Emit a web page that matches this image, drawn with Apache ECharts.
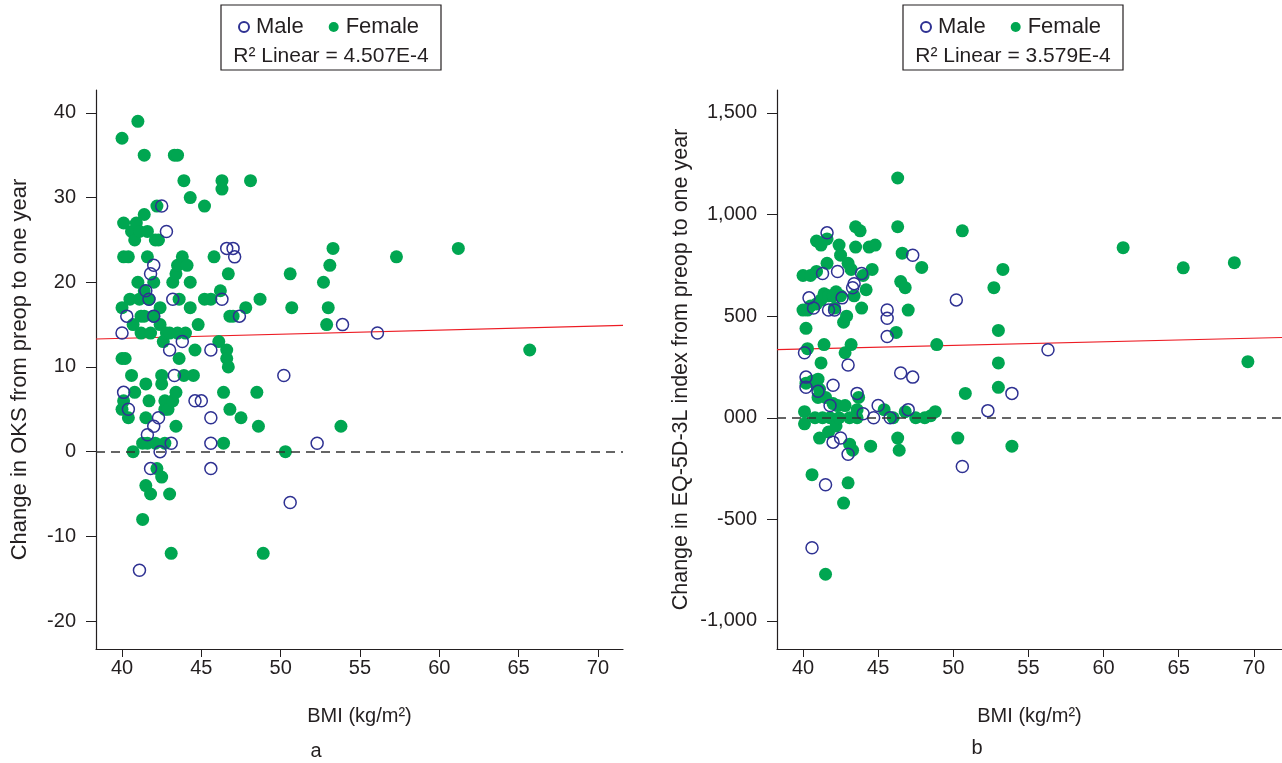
<!DOCTYPE html>
<html>
<head>
<meta charset="utf-8">
<script src="https://cdn.jsdelivr.net/npm/echarts@6/dist/echarts.min.js"></script>
<style>html,body{margin:0;padding:0;background:#fff}#c{width:1282px;height:763px}</style>
</head>
<body>
<div id="c"></div>
<script>
// ---------- DATA ----------
const xTicks = [40, 45, 50, 55, 60, 65, 70];
const oksTicks = [-20, -10, 0, 10, 20, 30, 40];
const eqTicks = [-1000, -500, 0, 500, 1000, 1500];
const eqTickLabels = ['-1,000', '-500', '000', '500', '1,000', '1,500'];

// Chart a: change in OKS (BMI, change)
const oksFemale = [
 [40.0,37],[40.1,27],[40.1,23],[40.0,17],[40.0,11],[40.1,6],[40.0,5],[40.2,11],[40.4,23],[40.5,18],
 [40.6,26],[40.7,15],[40.8,25],[40.9,27],[40.6,9],[40.4,4],[40.7,0],[40.8,7],[41.0,39],[41.0,20],
 [41.1,18],[41.2,14],[41.2,16],[41.1,26],[41.3,1],[41.3,-8],[41.4,35],[41.4,28],[41.4,19],[41.4,16],
 [41.5,4],[41.6,26],[41.6,23],[41.7,18],[41.5,8],[41.6,1],[41.8,-5],[41.5,-4],[41.8,14],[41.7,6],
 [42.0,20],[42.1,25],[42.2,29],[42.3,25],[42.0,16],[42.1,1],[42.2,-2],[42.4,17],[42.4,15],[42.5,9],
 [42.5,8],[42.6,13],[42.5,-3],[42.7,6],[42.7,5],[42.8,14],[42.7,1],[42.9,5],[43.0,-5],[43.0,14],
 [43.1,-12],[43.2,20],[43.2,6],[43.3,35],[43.5,35],[43.4,21],[43.4,7],[43.4,3],[43.5,14],[43.6,11],
 [43.5,22],[43.6,18],[43.8,23],[43.9,32],[43.9,9],[44.0,14],[44.1,22],[44.3,30],[44.3,20],[44.3,17],
 [44.5,9],[44.8,15],[44.6,12],[45.2,29],[45.2,18],[45.6,18],[45.8,23],[46.2,19],[46.1,13],[46.3,32],
 [46.3,31],[46.4,7],[46.4,1],[46.6,12],[46.6,11],[46.7,10],[46.7,21],[46.8,16],[46.8,5],[47.0,16],
 [47.5,4],[47.8,17],[48.1,32],[48.5,7],[48.6,3],[48.7,18],[48.9,-12],[50.3,0],[50.6,21],[50.7,17],
 [52.7,20],[52.9,15],[53.0,17],[53.1,22],[53.3,24],[53.8,3],[57.3,23],[61.2,24],[65.7,12]
];
const oksMale = [
 [40.0,14],[40.1,7],[40.3,16],[40.4,5],[41.1,-14],[41.5,19],[41.6,2],[41.7,18],[41.8,21],[41.8,-2],
 [42.0,22],[42.0,16],[42.0,3],[42.3,4],[42.4,0],[42.5,29],[42.8,26],[43.0,12],[43.1,1],[43.2,18],
 [43.3,9],[43.8,13],[44.6,6],[45.0,6],[45.6,12],[45.6,4],[45.6,1],[45.6,-2],[46.3,18],[46.6,24],
 [47.0,24],[47.1,23],[47.4,16],[50.2,9],[50.6,-6],[52.3,1],[53.9,15],[56.1,14]
];
const oksFit = [[38.36,13.3],[71.58,14.9]];

// Chart b: change in EQ-5D-3L index (BMI, change as printed on the axis)
const eqFemale = [
 [40.0,530],[40.0,700],[40.1,-30],[40.1,30],[40.2,170],[40.2,440],[40.3,340],[40.3,530],[40.5,550],[40.5,700],
 [40.6,-280],[40.6,180],[40.7,180],[40.8,0],[40.9,870],[40.9,720],[40.9,560],[41.0,100],[41.0,190],[41.1,-100],
 [41.1,140],[41.2,850],[41.2,580],[41.2,270],[41.3,0],[41.4,610],[41.4,360],[41.5,-770],[41.5,100],[41.6,880],
 [41.6,760],[41.7,600],[41.7,-70],[41.8,0],[42.0,600],[42.0,70],[42.1,540],[42.2,620],[42.2,-40],[42.3,60],
 [42.4,850],[42.4,0],[42.5,800],[42.5,600],[42.7,-420],[42.7,470],[42.8,320],[42.8,60],[42.9,500],[43.0,-320],
 [43.0,760],[43.1,0],[43.1,-130],[43.2,730],[43.2,360],[43.3,-160],[43.4,600],[43.5,940],[43.5,840],[43.6,40],
 [43.6,0],[43.7,100],[43.8,920],[43.9,540],[44.0,700],[44.2,630],[44.4,840],[44.5,-140],[44.8,850],[44.6,730],
 [45.4,40],[46.0,0],[46.2,420],[46.3,1180],[46.3,940],[46.3,-100],[46.4,-160],[46.5,670],[46.6,810],[46.8,640],
 [46.8,30],[47.0,530],[47.5,0],[47.9,740],[48.1,0],[48.5,10],[48.9,360],[48.8,30],[50.3,-100],[50.6,920],
 [50.8,120],[52.7,640],[53.0,430],[53.0,270],[53.0,150],[53.3,730],[53.9,-140],[61.3,837],[65.3,738],[68.7,763],
 [69.6,276]
];
const eqMale = [
 [40.1,320],[40.2,150],[40.2,200],[40.4,590],[40.6,-640],[40.7,540],[41.0,130],[41.3,710],[41.5,-330],[41.6,910],
 [41.7,530],[41.8,60],[42.0,-120],[42.0,160],[42.1,530],[42.3,720],[42.5,-100],[42.6,590],[43.0,-180],[43.0,260],
 [43.3,640],[43.4,660],[43.6,120],[43.9,710],[44.0,20],[44.7,0],[45.0,60],[45.6,530],[45.6,490],[45.6,400],
 [45.8,0],[46.5,220],[47.0,40],[47.3,800],[47.3,200],[50.2,580],[50.6,-240],[52.3,35],[53.9,120],[56.3,335]
];
const eqFit = [[38.27,335],[71.87,395]];

// ---------- STYLE ----------
const FONT = 'Liberation Sans, Arial, Helvetica, sans-serif';
const TXT = '#231f20';
const GREEN = '#00a651';
const BLUE = '#2e3192';
const RED = '#ed1c24';

function xAxisCfg(gridIndex, min, max) {
  return {
    gridIndex, type: 'value', min, max,
    name: 'BMI (kg/m²)', nameLocation: 'middle', nameGap: 57,
    nameTextStyle: { fontFamily: FONT, fontSize: 20, color: TXT },
    axisLine: { show: true, onZero: false, lineStyle: { color: TXT, width: 1.2 } },
    axisTick: { show: true, inside: false, length: 8, customValues: xTicks, lineStyle: { color: TXT } },
    axisLabel: { customValues: xTicks, margin: 9, fontFamily: FONT, fontSize: 20, color: TXT },
    splitLine: { show: false }
  };
}

const maleStyle = { color: 'rgba(255,255,255,0)', borderColor: BLUE, borderWidth: 1.5, opacity: 1 };
const femaleStyle = { color: GREEN, borderWidth: 0, opacity: 1 };
const legendText = { fontFamily: FONT, fontSize: 22, color: TXT, padding: [0, 0, 0, 2] };

const option = {
  animation: false,
  backgroundColor: '#ffffff',
  grid: [
    { left: 96, top: 90, width: 527, height: 559 },
    { left: 777, top: 90, width: 505, height: 559 }
  ],
  xAxis: [xAxisCfg(0, 38.36, 71.58), xAxisCfg(1, 38.27, 71.87)],
  yAxis: [
    {
      gridIndex: 0, type: 'value', min: -23.3, max: 42.7,
      name: 'Change in OKS from preop to one year', nameLocation: 'middle', nameGap: 65,
      nameTextStyle: { fontFamily: FONT, fontSize: 22, color: TXT },
      axisLine: { show: true, onZero: false, lineStyle: { color: TXT, width: 1.2 } },
      axisTick: { show: true, length: 10, customValues: oksTicks, lineStyle: { color: TXT } },
      axisLabel: { customValues: oksTicks, margin: 20, fontFamily: FONT, fontSize: 20, color: TXT },
      splitLine: { show: false }
    },
    {
      gridIndex: 1, type: 'value', min: -1138, max: 1613,
      name: 'Change in EQ-5D-3L index from preop to one year', nameLocation: 'middle', nameGap: 85,
      nameTextStyle: { fontFamily: FONT, fontSize: 21.5, color: TXT },
      axisLine: { show: true, onZero: false, lineStyle: { color: TXT, width: 1.2 } },
      axisTick: { show: true, length: 10, customValues: eqTicks, lineStyle: { color: TXT } },
      axisLabel: {
        customValues: eqTicks, margin: 20, fontFamily: FONT, fontSize: 20, color: TXT,
        formatter: v => eqTickLabels[eqTicks.indexOf(v)]
      },
      splitLine: { show: false }
    }
  ],
  legend: [
    {
      left: 238, top: 16, padding: 0, itemGap: 25, itemWidth: 10, itemHeight: 10, icon: 'circle',
      data: ['Male', 'Female'], textStyle: legendText, selectedMode: false
    },
    {
      left: 920, top: 16, padding: 0, itemGap: 25, itemWidth: 10, itemHeight: 10, icon: 'circle',
      data: ['Male', 'Female'], textStyle: legendText, selectedMode: false
    }
  ],
  graphic: [
    { type: 'rect', shape: { x: 221, y: 5, width: 220, height: 65 }, style: { fill: 'none', stroke: TXT, lineWidth: 1.2 } },
    { type: 'text', x: 331, y: 56, style: { text: 'R² Linear = 4.507E-4', fontFamily: FONT, fontSize: 21, fill: TXT, align: 'center', verticalAlign: 'middle' } },
    { type: 'rect', shape: { x: 903, y: 5, width: 220, height: 65 }, style: { fill: 'none', stroke: TXT, lineWidth: 1.2 } },
    { type: 'text', x: 1013, y: 56, style: { text: 'R² Linear = 3.579E-4', fontFamily: FONT, fontSize: 21, fill: TXT, align: 'center', verticalAlign: 'middle' } },
    { type: 'text', x: 316, y: 751, style: { text: 'a', fontFamily: FONT, fontSize: 20, fill: TXT, align: 'center', verticalAlign: 'middle' } },
    { type: 'text', x: 977, y: 748, style: { text: 'b', fontFamily: FONT, fontSize: 20, fill: TXT, align: 'center', verticalAlign: 'middle' } }
  ],
  series: [
    {
      name: 'fitA', type: 'line', xAxisIndex: 0, yAxisIndex: 0, data: oksFit, symbol: 'none', z: 1,
      lineStyle: { color: RED, width: 1.2 }, silent: true,
      markLine: { silent: true, symbol: 'none', label: { show: false },
        lineStyle: { color: '#333', type: [9, 6], width: 1.5 }, data: [{ yAxis: 0 }] }
    },
    {
      name: 'Female', type: 'scatter', xAxisIndex: 0, yAxisIndex: 0, data: oksFemale,
      symbol: 'circle', symbolSize: 13, itemStyle: femaleStyle, z: 2
    },
    {
      name: 'Male', type: 'scatter', xAxisIndex: 0, yAxisIndex: 0, data: oksMale,
      symbol: 'circle', symbolSize: 12, itemStyle: maleStyle, z: 3
    },
    {
      name: 'fitB', type: 'line', xAxisIndex: 1, yAxisIndex: 1, data: eqFit, symbol: 'none', z: 1,
      lineStyle: { color: RED, width: 1.2 }, silent: true,
      markLine: { silent: true, symbol: 'none', label: { show: false },
        lineStyle: { color: '#333', type: [9, 6], width: 1.5 }, data: [{ yAxis: 0 }] }
    },
    {
      name: 'Female', type: 'scatter', xAxisIndex: 1, yAxisIndex: 1, data: eqFemale,
      symbol: 'circle', symbolSize: 13, itemStyle: femaleStyle, z: 2
    },
    {
      name: 'Male', type: 'scatter', xAxisIndex: 1, yAxisIndex: 1, data: eqMale,
      symbol: 'circle', symbolSize: 12, itemStyle: maleStyle, z: 3
    }
  ]
};

const chart = echarts.init(document.getElementById('c'), null, { renderer: 'canvas' });
chart.setOption(option);
</script>
</body>
</html>
